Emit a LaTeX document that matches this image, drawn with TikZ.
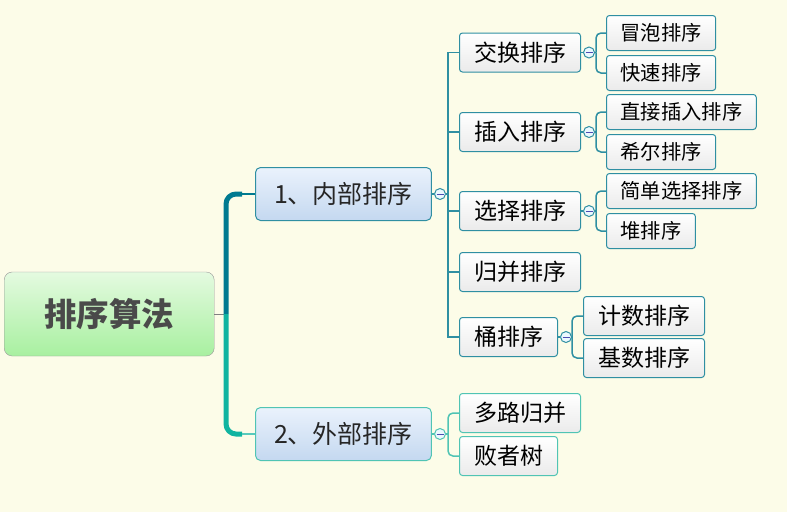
\documentclass[tikz,border=0pt]{standalone}
\usepackage{fontspec}
\setmainfont{Noto Sans CJK SC}
\definecolor{paper}{HTML}{FCFCE8}
\definecolor{deepteal}{HTML}{007A90}
\definecolor{lightteal}{HTML}{10B4A0}
\definecolor{edgeteal}{HTML}{2F8FA2}
\definecolor{mintedge}{HTML}{50C4B4}
\definecolor{inkgray}{HTML}{4A4A4A}
\definecolor{leaftop}{HTML}{E4FAE0}
\definecolor{leafbottom}{HTML}{A8F0A0}
\definecolor{skytop}{HTML}{EAF2FC}
\definecolor{skybottom}{HTML}{C4D8F0}
\begin{document}
\begin{tikzpicture}[x=1pt, y=-1pt,
    rootbox/.style={draw=gray!80, rounded corners=8pt, top color=leaftop, bottom color=leafbottom,
      minimum height=84pt, inner xsep=40pt, anchor=west, text=inkgray, font=\fontsize{32.5}{38}\selectfont\bfseries},
    topicbox/.style={draw=edgeteal, line width=1pt, rounded corners=5pt, top color=skytop, bottom color=skybottom,
      minimum height=53pt, inner xsep=18.5pt, anchor=west, text=black!85, font=\fontsize{25}{30}\selectfont},
    subbox/.style={draw=edgeteal, line width=1pt, rounded corners=3pt, top color=white, bottom color=black!8,
      minimum height=39pt, inner xsep=14.5pt, anchor=west, font=\fontsize{23}{27}\selectfont},
    leafbox/.style={subbox, minimum height=35pt, inner xsep=14pt, font=\fontsize{20.3}{24}\selectfont},
    knob/.style={circle, draw=edgeteal, line width=1pt, fill=cyan!8, inner sep=0pt, minimum size=11pt,
      path picture={\draw[blue!40!gray, line width=0.8pt] (-3.5pt,0) -- (3.5pt,0);}},
    branch/.style={draw=edgeteal, line width=1.5pt},
    twig/.style={branch, rounded corners=5pt}]
  \fill[paper] (0,0) rectangle (787,512);
  \useasboundingbox (0,0) rectangle (787,512);

  % root and main topics
  \node[rootbox] (root) at (4,314) {排序算法};
  \node[topicbox] (inner) at (255,194) {1、内部排序};
  \node[topicbox, draw=mintedge] (outer) at (255,434) {2、外部排序};

  \coordinate (trunk) at (226,314);
  \draw[gray, line width=1pt] (root.east) -- (trunk);
  \draw[deepteal, line width=5pt, rounded corners=10pt] (trunk) -- (226,194) -- (242,194);
  \draw[lightteal, line width=5pt, rounded corners=10pt] (trunk) -- (226,434) -- (242,434);
  \draw[deepteal, line width=2pt] (242,194) -- (inner.west);
  \draw[lightteal!70, line width=2pt] (242,434) -- (outer.west);

  % internal sorting
  \node[subbox] (swap) at (459,52.5) {交换排序};
  \node[subbox] (insert) at (459,132) {插入排序};
  \node[subbox] (select) at (459,211) {选择排序};
  \node[subbox] (merge) at (459,272) {归并排序};
  \node[subbox] (bucket) at (459,337) {桶排序};

  \node[knob] (k0) at (440,194) {};
  \coordinate (j0) at (448,194);
  \draw[branch] (inner.east) -- (k0) -- (j0);
  \foreach \n in {swap,insert,select,merge,bucket}
    \draw[branch] (j0) |- (\n.west);

  \node[leafbox] (bubble) at (606,33) {冒泡排序};
  \node[leafbox] (quick) at (606,73) {快速排序};
  \node[leafbox] (direct) at (606,112) {直接插入排序};
  \node[leafbox] (shell) at (606,152) {希尔排序};
  \node[leafbox] (simple) at (606,191) {简单选择排序};
  \node[leafbox] (heap) at (606,231) {堆排序};
  \node[subbox] (count) at (583,316) {计数排序};
  \node[subbox] (radix) at (583,358) {基数排序};

  \foreach \p/\a/\b/\x in {swap/bubble/quick/596, insert/direct/shell/596, select/simple/heap/596, bucket/count/radix/572} {
    \node[knob] (k\p) at ([xshift=8pt]\p.east) {};
    \coordinate (j\p) at (\x,0 |- \p.east);
    \draw[branch] (\p.east) -- (k\p) -- (j\p);
    \draw[twig] (j\p) |- (\a.west);
    \draw[twig] (j\p) |- (\b.west);
  }

  % external sorting
  \node[subbox, draw=mintedge] (multi) at (459,413) {多路归并};
  \node[subbox, draw=mintedge] (loser) at (459,456) {败者树};

  \node[knob, draw=mintedge] (k1) at (440,434) {};
  \coordinate (j1) at (448,434);
  \draw[branch, draw=mintedge] (outer.east) -- (k1) -- (j1);
  \draw[twig, draw=mintedge] (j1) |- (multi.west);
  \draw[twig, draw=mintedge] (j1) |- (loser.west);
\end{tikzpicture}
\end{document}
